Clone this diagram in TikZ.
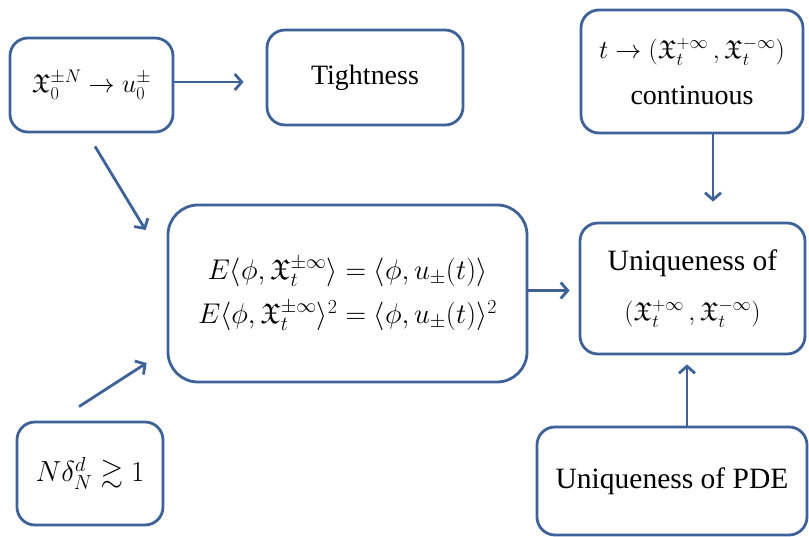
\RequirePackage{fix-cm}
\documentclass[tikz,border=0pt]{standalone}
\usepackage{amsmath,amssymb}
\usepackage{fontspec}
\setmainfont{Liberation Serif}
\usetikzlibrary{arrows.meta}
\definecolor{bl}{RGB}{62,98,152}
\begin{document}
\begin{tikzpicture}[x=1pt,y=-1pt,
  box/.style={draw=bl,line width=2.8pt,rounded corners=18pt,fill=white,inner sep=0pt,align=center,font=\fontsize{29}{44}\selectfont},
  arr/.style={draw=bl,line width=2.8pt,-{Straight Barb[length=7pt,width=16pt]}}]
\useasboundingbox (0,0) rectangle (809,537);
\node[box,minimum width=163pt,minimum height=94pt,font=\fontsize{26}{44}\selectfont] (A) at (91.5,85) {$\mathfrak{X}_0^{\pm N}\rightarrow u_0^{\pm}$};
\node[box,minimum width=196pt,minimum height=95pt,font=\fontsize{28}{44}\selectfont] (T) at (365,77.5) {Tightness};
\node[box,minimum width=222pt,minimum height=123pt,font=\fontsize{28}{46}\selectfont] (TR) at (692,71.5) {{\fontsize{26}{46}\selectfont$t\rightarrow(\mathfrak{X}_t^{+\infty}\,,\mathfrak{X}_t^{-\infty})$}\\continuous};
\node[box,rounded corners=30pt,minimum width=359pt,minimum height=177pt,font=\fontsize{28.5}{44}\selectfont] (C) at (347.5,293.5) {$E\langle\phi,\mathfrak{X}_t^{\pm\infty}\rangle=\langle\phi,u_{\pm}(t)\rangle$\\$E\langle\phi,\mathfrak{X}_t^{\pm\infty}\rangle^2=\langle\phi,u_{\pm}(t)\rangle^2$};
\node[box,minimum width=225pt,minimum height=131pt,font=\fontsize{29.5}{50}\selectfont] (U) at (692.5,288.5) {Uniqueness of\\{\fontsize{26}{50}\selectfont$(\mathfrak{X}_t^{+\infty}\,,\mathfrak{X}_t^{-\infty})$}};
\node[box,minimum width=146pt,minimum height=103pt,font=\fontsize{29}{44}\selectfont] (BL) at (90,473.5) {$N\delta_N^d\gtrsim 1$};
\node[box,minimum width=270pt,minimum height=108pt,font=\fontsize{29.5}{44}\selectfont] (BR) at (672,481) {Uniqueness of PDE};
\draw[arr,shorten >=22pt] ([yshift=3pt]A.east) -- ([yshift=3pt]A.east -| T.west);
\draw[arr] ([xshift=3.5pt,yshift=-13pt]A.south) -- ([xshift=-21pt,yshift=63.5pt]C.west);
\draw[arr] ([xshift=-11pt,yshift=14pt]BL.north) -- ([xshift=-20pt,yshift=-69.5pt]C.west);
\draw[arr,shorten >=9pt] ([yshift=3pt]C.east) -- ([yshift=3pt]C.east -| U.west);
\draw[arr,shorten >=20pt] ([xshift=21pt]TR.south) -- ([xshift=21pt]TR.south |- U.north);
\draw[arr,shorten >=9pt] ([xshift=15pt]BR.north) -- ([xshift=15pt]BR.north |- U.south);
\end{tikzpicture}
\end{document}
